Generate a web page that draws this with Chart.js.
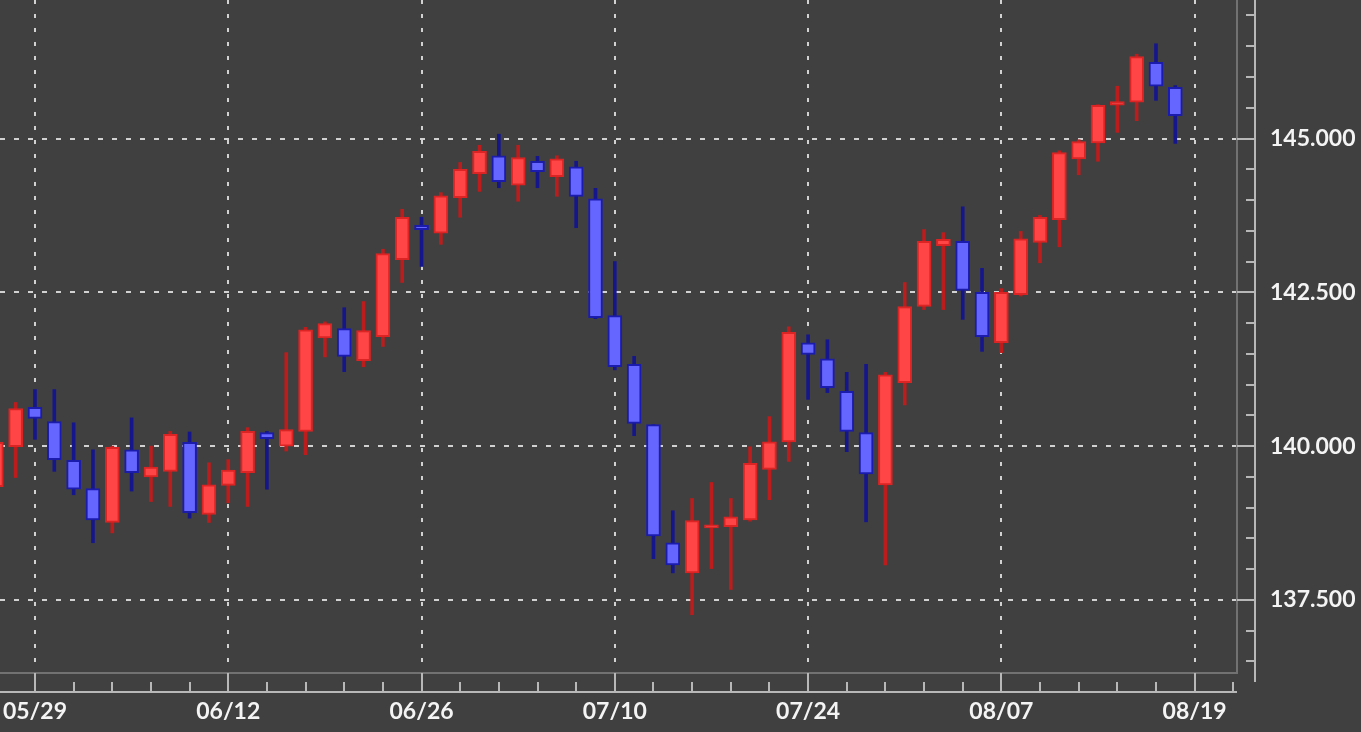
<!DOCTYPE html>
<html>
<head>
<meta charset="utf-8">
<title>USD/JPY</title>
<script src="https://cdn.jsdelivr.net/npm/chart.js@4.4.0/dist/chart.umd.min.js"></script>
<style>
  html, body { margin: 0; padding: 0; background: #404040; overflow: hidden; }
  canvas { display: block; }
</style>
</head>
<body>
<canvas id="candleChart" width="1361" height="732"></canvas>
<script>
// trading days (the last slot only carries the axis label)
var dates = ['05/25','05/26','05/29','05/30','05/31','06/01','06/02','06/05','06/06','06/07',
             '06/08','06/09','06/12','06/13','06/14','06/15','06/16','06/19','06/20','06/21',
             '06/22','06/23','06/26','06/27','06/28','06/29','06/30','07/03','07/04','07/05',
             '07/06','07/07','07/10','07/11','07/12','07/13','07/14','07/17','07/18','07/19',
             '07/20','07/21','07/24','07/25','07/26','07/27','07/28','07/31','08/01','08/02',
             '08/03','08/04','08/07','08/08','08/09','08/10','08/11','08/14','08/15','08/16',
             '08/17','08/18','08/19'];

var opens  = [139.34,139.99,140.63,140.40,139.77,139.31,138.76,139.94,139.50,139.59,
              140.06,138.89,139.36,139.57,140.22,140.00,140.24,141.76,141.91,141.39,
              141.78,143.03,143.59,143.46,144.04,144.43,144.72,144.24,144.63,144.38,
              144.54,144.02,142.12,141.33,140.35,138.43,137.94,138.67,138.69,138.80,
              139.62,140.07,141.68,141.42,140.89,140.22,139.37,141.03,142.27,143.26,
              143.33,142.50,141.68,142.46,143.31,143.68,144.67,144.93,145.54,145.59,
              146.24,145.83];
var highs  = [140.20,140.71,140.92,140.92,140.38,139.94,140.00,140.46,140.00,140.24,
              140.23,139.73,139.78,140.30,140.24,141.52,141.93,142.02,142.25,142.35,
              143.20,143.85,143.72,144.12,144.61,144.89,145.07,144.89,144.71,144.72,
              144.63,144.19,143.00,141.46,140.35,138.95,139.15,139.41,139.15,139.99,
              140.48,141.94,141.81,141.73,141.20,141.33,141.20,142.66,143.52,143.47,
              143.89,142.89,142.56,143.49,143.75,144.80,144.98,145.55,145.85,146.37,
              146.54,145.86];
var lows   = [139.10,139.49,140.11,139.59,139.21,138.43,138.59,139.27,139.10,139.02,
              138.83,138.76,139.08,139.02,139.30,139.92,139.86,141.45,141.21,141.29,
              141.62,142.66,142.92,143.28,143.72,144.14,144.20,143.98,144.20,144.06,
              143.55,142.07,141.24,140.17,138.17,137.94,137.26,138.01,137.67,138.78,
              139.13,139.75,140.76,140.87,139.91,138.77,138.07,140.67,142.22,142.22,
              142.06,141.54,141.52,142.44,142.98,143.24,144.41,144.63,145.10,145.29,
              145.62,144.92];
var closes = [140.06,140.61,140.45,139.78,139.30,138.80,139.98,139.57,139.66,140.19,
              138.92,139.37,139.61,140.24,140.12,140.27,141.89,141.99,141.46,141.88,
              143.13,143.72,143.52,144.07,144.50,144.79,144.30,144.69,144.46,144.67,
              144.06,142.09,141.29,140.37,138.54,138.07,138.79,138.72,138.85,139.72,
              140.07,141.85,141.49,140.95,140.24,139.55,141.16,142.27,143.33,143.36,
              142.53,141.78,142.50,143.37,143.72,144.77,144.95,145.54,145.60,146.33,
              145.85,145.37];

var labelIdx = [2, 12, 22, 32, 42, 52, 62];
var priceTicks = [137.5, 140, 142.5, 145];

var upFill = '#ff4545', upLine = '#dc2424', upWick = '#bc1c1c';
var dnFill = '#6565ff', dnLine = '#1c1cac', dnWick = '#16168c';

function isUp(i) { return closes[i] >= opens[i]; }

var bodies = opens.map(function (o, i) { return { x: i, y: [o, closes[i]] }; });
var wicks = lows.map(function (l, i) { return { x: i, y: [l, highs[i]] }; });

var axesPlugin = {
  id: 'axes',
  afterDraw: function (chart) {
    var ctx = chart.ctx, area = chart.chartArea;
    var xs = chart.scales.x, ys = chart.scales.y;
    var right = area.right + 1, bottom = area.bottom;
    ctx.save();
    // plot frame
    ctx.strokeStyle = '#727272';
    ctx.lineWidth = 2;
    ctx.beginPath();
    ctx.moveTo(right, 0); ctx.lineTo(right, bottom);
    ctx.lineTo(0, bottom);
    ctx.stroke();

    ctx.strokeStyle = '#b8b8b8';
    // x axis
    var axY = bottom + 19;
    ctx.beginPath();
    ctx.moveTo(0, axY); ctx.lineTo(right, axY);
    for (var i = 0; i <= 64; i += 2) {
      var px = Math.round(xs.getPixelForValue(i));
      ctx.moveTo(px, labelIdx.indexOf(i) >= 0 ? bottom : axY - 10);
      ctx.lineTo(px, axY);
    }
    ctx.stroke();
    // y axis
    var axX = right + 18;
    ctx.beginPath();
    ctx.moveTo(axX, 0); ctx.lineTo(axX, bottom + 9);
    for (var v = 136.5; v <= 147.01; v += 0.5) {
      var py = Math.round(ys.getPixelForValue(v));
      var major = Math.abs(v / 2.5 - Math.round(v / 2.5)) < 0.001;
      ctx.moveTo(major ? right : axX - 9, py);
      ctx.lineTo(axX, py);
    }
    ctx.stroke();
    ctx.restore();
  }
};

var candleChart = new Chart(document.getElementById('candleChart'), {
  type: 'bar',
  data: {
    datasets: [{
      label: 'body',
      data: bodies,
      order: 0,
      grouped: false,
      barThickness: 14,
      borderWidth: 2,
      borderSkipped: false,
      backgroundColor: opens.map(function (o, i) { return isUp(i) ? upFill : dnFill; }),
      borderColor: opens.map(function (o, i) { return isUp(i) ? upLine : dnLine; })
    }, {
      label: 'wick',
      data: wicks,
      order: 1,
      grouped: false,
      barThickness: 3,
      borderWidth: 0,
      backgroundColor: opens.map(function (o, i) { return isUp(i) ? upWick : dnWick; })
    }]
  },
  options: {
    responsive: false,
    animation: false,
    devicePixelRatio: 1,
    layout: { padding: 0 },
    plugins: { legend: { display: false }, tooltip: { enabled: false } },
    scales: {
      x: {
        type: 'linear',
        offset: false,
        min: 0.19,
        max: 64.14,
        afterFit: function (s) {
          s.height = 59;
          s.paddingLeft = 0; s.paddingRight = 0;
        },
        afterBuildTicks: function (s) {
          s.ticks = labelIdx.map(function (v) { return { value: v }; });
        },
        grid: { offset: false, color: '#d2d2d2', lineWidth: 2, drawTicks: false },
        border: { display: false, dash: [4, 10] },
        ticks: {
          padding: 25,
          maxRotation: 0,
          autoSkip: false,
          color: '#f4f4f4',
          font: { family: 'Lato', size: 23, weight: 'bold' },
          callback: function (v) { return dates[v]; }
        }
      },
      y: {
        position: 'right',
        min: 136.313,
        max: 147.251,
        afterFit: function (s) {
          s.width = 125;
          s.paddingTop = 0; s.paddingBottom = 0;
        },
        afterBuildTicks: function (s) {
          s.ticks = priceTicks.map(function (v) { return { value: v }; });
        },
        grid: { color: '#d2d2d2', lineWidth: 2, drawTicks: false },
        border: { display: false, dash: [5, 9] },
        ticks: {
          padding: 34,
          color: '#f4f4f4',
          font: { family: 'Lato', size: 23, weight: 'bold' },
          callback: function (v) { return v.toFixed(3); }
        }
      }
    }
  },
  plugins: [axesPlugin]
});
</script>
</body>
</html>
